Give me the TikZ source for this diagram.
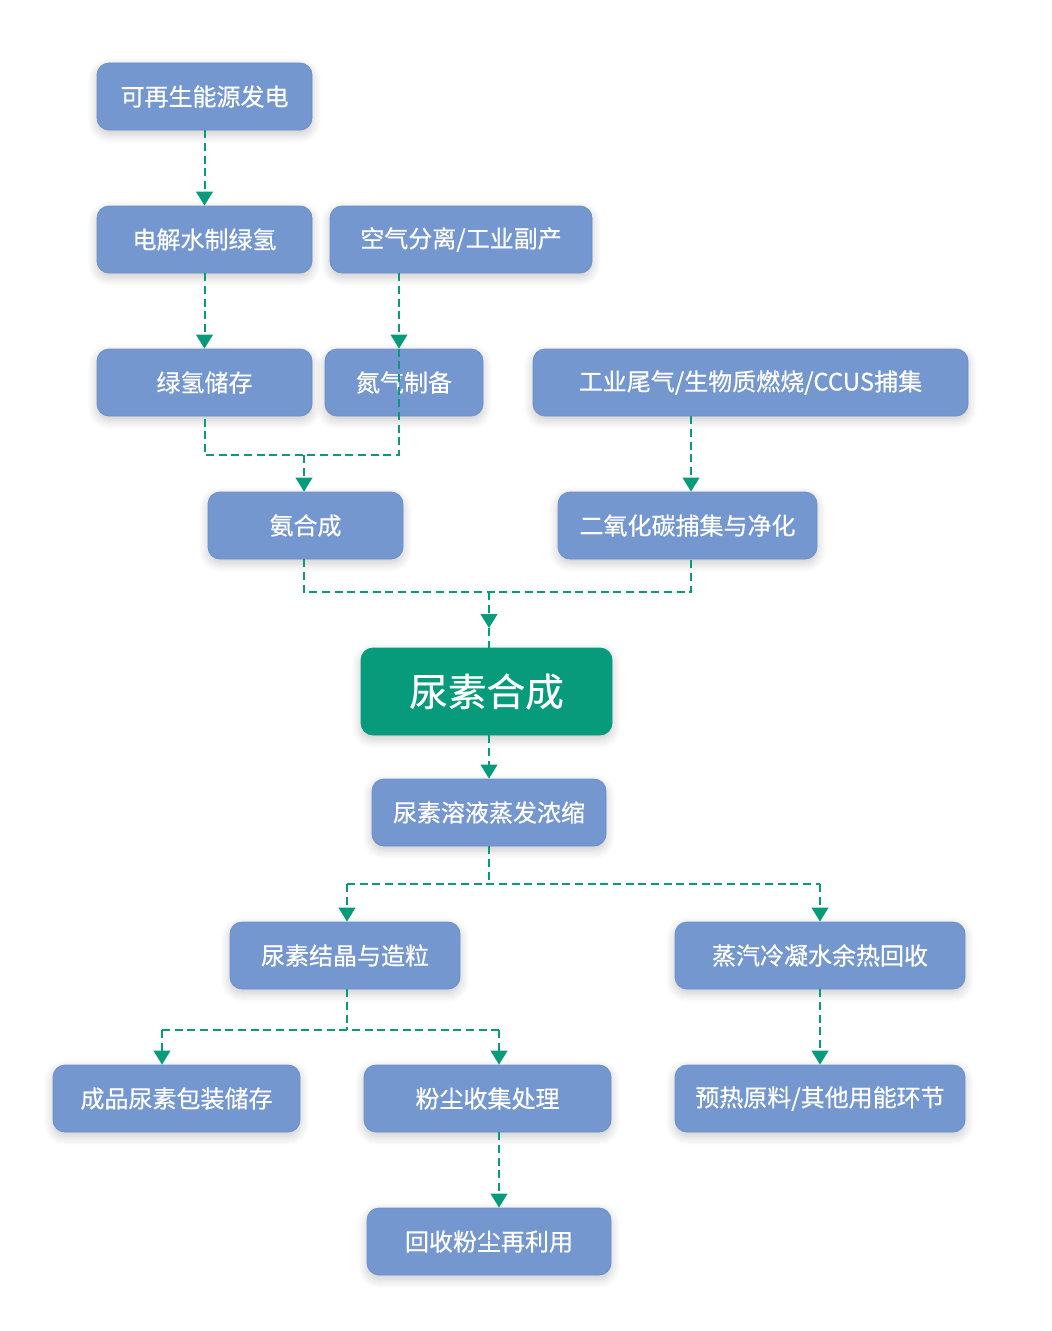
\documentclass[tikz,border=0pt]{standalone}
\usepackage{fontspec}
\setmainfont{Noto Sans CJK SC}
\newfontfamily\boxfont{Noto Sans CJK SC}[FakeBold=0.5]
\usetikzlibrary{arrows.meta, shadows.blur}

\definecolor{boxblue}{HTML}{7597D0}
\definecolor{boxedge}{HTML}{6D90CB}
\definecolor{flowgreen}{HTML}{079B7B}

\tikzset{
  box/.style={draw=boxedge, line width=0.6pt, fill=boxblue, rounded corners=9pt,
    text=white, font=\boxfont\fontsize{18}{18}\selectfont, inner sep=0pt,
    minimum height=50.25pt,
    blur shadow={shadow xshift=0pt, shadow yshift=-3pt, shadow blur radius=7pt,
      shadow blur steps=8, shadow opacity=22}},
  w/.style={minimum width=#1*0.75pt},
  mainbox/.style={box, draw=flowgreen, fill=flowgreen, minimum height=65.25pt,
    font=\boxfont\fontsize{29}{29}\selectfont},
  link/.style={draw=flowgreen, line width=1.5pt, dash pattern=on 6pt off 3.5pt},
  flow/.style={link, -{Triangle[width=12.5pt,length=10.5pt]}}
}

\begin{document}
\begin{tikzpicture}[x=0.75pt, y=-0.75pt]
  \useasboundingbox (0,0) rectangle (1052,1331);

  % raw materials
  \node[box, w=215] (ren) at (204.5,96.5) {可再生能源发电};
  \node[box, w=215] (elec) at (204.5,239.5) {电解水制绿氢};
  \node[box, w=262] (air) at (461,239.5) {空气分离/工业副产};
  \node[box, w=215] (hstore) at (204.5,382.5) {绿氢储存};
  \node[box, w=158] (nitro) at (404,382.5) {氮气制备};
  \node[box, w=435] (ccus) at (750.5,382.5) {工业尾气/生物质燃烧/CCUS捕集};
  \node[box, w=195] (ammonia) at (305.5,525.5) {氨合成};
  \node[box, w=259] (co2) at (687.5,525.5) {二氧化碳捕集与净化};

  % synthesis
  \node[mainbox, w=251] (urea) at (486.5,691.5) {尿素合成};
  \node[box, w=234] (evap) at (489,812.5) {尿素溶液蒸发浓缩};

  % products and heat recovery
  \node[box, w=230] (cryst) at (345,955.5) {尿素结晶与造粒};
  \node[box, w=290] (steam) at (820,955.5) {蒸汽冷凝水余热回收};
  \node[box, w=247] (pack) at (176.5,1098.5) {成品尿素包装储存};
  \node[box, w=247] (dust) at (487.5,1098.5) {粉尘收集处理};
  \node[box, w=290] (heat) at (820,1098.5) {预热原料/其他用能环节};
  \node[box, w=244] (reuse) at (489,1241.5) {回收粉尘再利用};

  % junction points
  \coordinate (nj) at (399,455);
  \coordinate (aj) at (304,455);
  \coordinate (cx) at (691,455);
  \coordinate (uj) at (489,592);
  \coordinate (ua) at (489,628);
  \coordinate (ej) at (489,884);
  \coordinate (cj) at (347,1030);
  \coordinate (cl) at (162,1030);
  \coordinate (cr) at (499,1030);

  % hydrogen and nitrogen to ammonia
  \draw[flow] (ren) -- (elec);
  \draw[flow] (elec) -- (hstore);
  \draw[flow] (air.south -| nj) -- (nitro.north -| nj);
  \draw[link] (nitro.north -| nj) -- (nj) -- (hstore.south |- nj) -- (hstore.south);
  \draw[flow] (aj) -- (ammonia.north -| aj);

  % carbon dioxide
  \draw[flow] (ccus.south -| cx) -- (co2.north -| cx);

  % into urea synthesis
  \draw[link] (ammonia.south -| aj) -- (uj -| aj) -- (uj -| cx) -- (co2.south -| cx);
  \draw[flow] (uj) -- (ua);
  \draw[link] (ua) -- (urea.north -| ua);
  \draw[flow] (urea.south -| evap) -- (evap);

  % split after evaporation
  \draw[link] (evap.south) -- (ej);
  \draw[link] (ej -| cj) -- (ej -| steam.north);
  \draw[flow] (ej -| cj) -- (cryst.north -| cj);
  \draw[flow] (ej -| steam.north) -- (steam.north);
  \draw[flow] (steam) -- (heat);

  % split after granulation
  \draw[link] (cryst.south -| cj) -- (cj);
  \draw[link] (cl) -- (cr);
  \draw[flow] (cl) -- (pack.north -| cl);
  \draw[flow] (cr) -- (dust.north -| cr);
  \draw[flow] (dust.south -| cr) -- (reuse.north -| cr);
\end{tikzpicture}
\end{document}
